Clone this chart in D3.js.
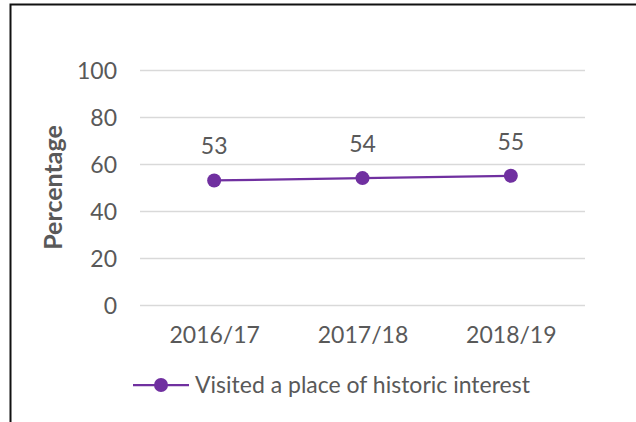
<!DOCTYPE html>
<html>
<head>
<meta charset="utf-8">
<script src="https://cdn.jsdelivr.net/npm/d3@7"></script>
<style>
  html, body { margin: 0; padding: 0; background: #fff; }
  svg text { font-family: Lato, "Open Sans", sans-serif; fill: #595959; }
</style>
</head>
<body>
<svg id="chart" width="636" height="422"></svg>
<script>
const years = ['2016/17', '2017/18', '2018/19']
const visited = [53, 54, 55]
const yTicks = [0, 20, 40, 60, 80, 100]
const seriesName = 'Visited a place of historic interest'

const PURPLE = '#7030a0'
const FONT = '23px'
const svg = d3.select('#chart')

// frame (top and left edges only, as in the screenshot)
svg.append('path')
  .attr('d', 'M10.5,422 V4.5 H636')
  .attr('fill', 'none')
  .attr('stroke', '#111')
  .attr('stroke-width', 2)

const plot = { left: 140, right: 585, top: 70, bottom: 305 }

const x = d3.scalePoint()
  .domain(years)
  .range([plot.left, plot.right])
  .padding(0.5)

const y = d3.scaleLinear()
  .domain([0, 100])
  .range([plot.bottom, plot.top])

// gridlines
svg.append('g')
  .selectAll('line')
  .data(yTicks)
  .join('line')
  .attr('x1', plot.left)
  .attr('x2', plot.right)
  .attr('y1', d => y(d) + 0.5)
  .attr('y2', d => y(d) + 0.5)
  .attr('stroke', '#d9d9d9')
  .attr('stroke-width', 1.5)

// y axis labels
const yAxis = svg.append('g')
  .attr('transform', `translate(${plot.left - 23},0)`)
  .call(d3.axisLeft(y).tickValues(yTicks).tickSize(0).tickPadding(0))
yAxis.select('.domain').remove()
yAxis.selectAll('text')
  .style('font-size', FONT)
  .attr('fill', '#595959')
  .attr('dy', '0.35em')

// x axis labels
const xAxis = svg.append('g')
  .attr('transform', `translate(0,${plot.bottom})`)
  .call(d3.axisBottom(x).tickSize(0).tickPadding(22))
xAxis.select('.domain').remove()
xAxis.selectAll('text')
  .style('font-size', FONT)
  .attr('fill', '#595959')

// axis title
svg.append('text')
  .attr('transform', `translate(62,${(plot.top + plot.bottom) / 2}) rotate(-90)`)
  .attr('text-anchor', 'middle')
  .style('font-size', '25px')
  .style('font-weight', 'bold')
  .text('Percentage')

// series line
const line = d3.line()
  .x((d, i) => x(years[i]))
  .y(d => y(d))

svg.append('path')
  .datum(visited)
  .attr('d', line)
  .attr('fill', 'none')
  .attr('stroke', PURPLE)
  .attr('stroke-width', 2.25)

svg.append('g')
  .selectAll('circle')
  .data(visited)
  .join('circle')
  .attr('cx', (d, i) => x(years[i]))
  .attr('cy', d => y(d))
  .attr('r', 7)
  .attr('fill', PURPLE)

// data labels
svg.append('g')
  .selectAll('text')
  .data(visited)
  .join('text')
  .attr('x', (d, i) => x(years[i]))
  .attr('y', d => y(d) - 26)
  .attr('text-anchor', 'middle')
  .style('font-size', FONT)
  .text(d => d)

// legend
const legend = svg.append('g').attr('transform', 'translate(133,385)')
legend.append('line')
  .attr('x1', 0).attr('x2', 56)
  .attr('stroke', PURPLE)
  .attr('stroke-width', 2.25)
legend.append('circle')
  .attr('cx', 28)
  .attr('r', 7)
  .attr('fill', PURPLE)
legend.append('text')
  .attr('x', 62)
  .attr('dy', '0.35em')
  .style('font-size', FONT)
  .text(seriesName)
</script>
</body>
</html>
